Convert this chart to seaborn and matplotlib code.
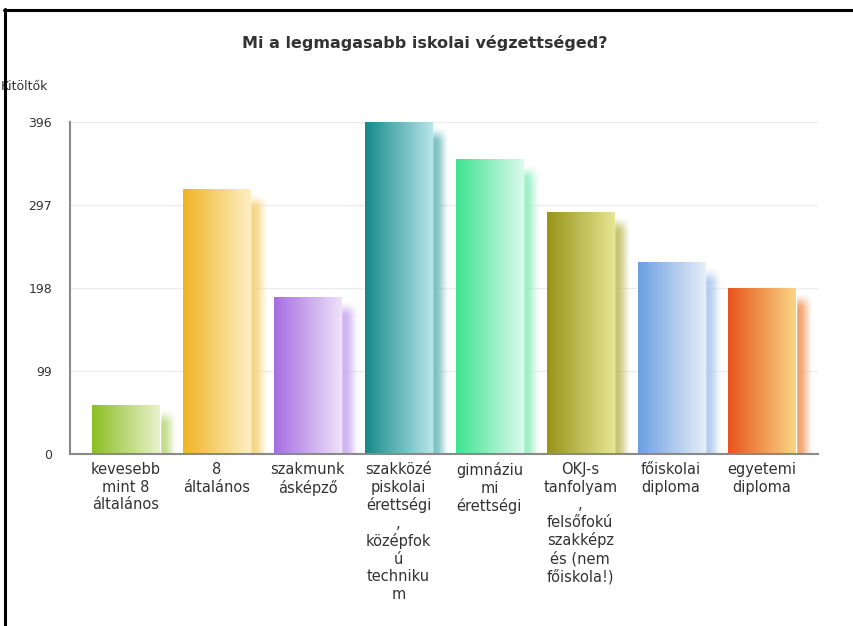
import numpy as np
import pandas as pd
import matplotlib.pyplot as plt
import matplotlib.colors as mcolors
from matplotlib.lines import Line2D
import seaborn as sns

# -------------------------------------------------------------------------
# Data
# -------------------------------------------------------------------------
categories = [
    "kevesebb\nmint 8\náltalános",
    "8\náltalános",
    "szakmunk\násképző",
    "szakközé\npiskolai\nérettségi\n,\nközépfok\nú\ntechniku\nm",
    "gimnáziu\nmi\nérettségi",
    "OKJ-s\ntanfolyam\n,\nfelsőfokú\nszakképz\nés (nem\nfőiskola!)",
    "főiskolai\ndiploma",
    "egyetemi\ndiploma",
]
values = [58, 316, 187, 396, 351, 288, 228, 197]
yticks = [0, 99, 198, 297, 396]

# gradient colours (left -> right) per bar
left_colors = ["#8cbf22", "#f0b424", "#a56ee0", "#16898a", "#3ee391", "#979418", "#6d9fe0", "#e8541c"]
right_colors = ["#e9f2cc", "#fdefc4", "#efe2fb", "#b6e6ea", "#dcfaec", "#e6e694", "#e6eefa", "#f8d684"]

title = "Mi a legmagasabb iskolai végzettséged?"
ylabel = "Kitöltők"

# -------------------------------------------------------------------------
# Style
# -------------------------------------------------------------------------
sns.set_theme(style="white")
plt.rcParams['font.family'] = ['DejaVu Sans']

df = pd.DataFrame({'cat': categories, 'n': values})

fig = plt.figure(figsize=(8.54, 6.26), dpi=100)
fig.patch.set_facecolor('white')
ax = fig.add_axes([70 / 854, 1 - 454 / 626, 748 / 854, 332 / 626])

sns.barplot(data=df, x='cat', y='n', hue='cat', palette=left_colors, legend=False,
            width=0.74, saturation=1, ax=ax, zorder=3)


def smooth(v):
    v = np.clip(v, 0, 1)
    return v * v * (3 - 2 * v)


# gradient fill + soft shadow for every bar
for i, p in enumerate(ax.patches):
    x0, w, h = p.get_x(), p.get_width(), p.get_height()
    c0 = np.array(mcolors.to_rgb(left_colors[i]))
    c1 = np.array(mcolors.to_rgb(right_colors[i]))
    t = np.linspace(0, 1, 256)[:, None]
    grad = (c0 * (1 - t) + c1 * t)[None, :, :]
    ax.imshow(grad, extent=[x0, x0 + w, 0, h], aspect='auto', zorder=3.5,
              interpolation='bilinear')

    # blurred shadow to the right of the bar
    sx0, sx1 = x0 + 0.05, x0 + w + 0.2
    stop = max(h - 4, 1)
    nx, ny = 160, 200
    xs = np.linspace(sx0, sx1, nx)
    ys = np.linspace(stop, 0, ny)          # row 0 = top
    fx = smooth((sx1 - xs) / 0.16)
    fy = smooth((stop - ys) / 20.0)
    alpha = fy[:, None] * fx[None, :] * 0.9
    sc = c0 * 0.5 + c1 * 0.35 + 0.15
    rgba = np.zeros((ny, nx, 4))
    rgba[..., :3] = np.clip(sc, 0, 1)
    rgba[..., 3] = alpha
    ax.imshow(rgba, extent=[sx0, sx1, 0, stop], aspect='auto', zorder=2.5,
              interpolation='bilinear')

ax.set_xlim(-0.616, 7.616)
ax.set_ylim(0, 396)
ax.set_yticks(yticks)
ax.set_yticklabels([str(v) for v in yticks])
ax.yaxis.grid(True, color='#ececec', lw=1, zorder=0)
ax.xaxis.grid(False)
ax.set_axisbelow(True)

for s in ['top', 'right']:
    ax.spines[s].set_visible(False)
for s in ['left', 'bottom']:
    ax.spines[s].set_color('#8a8a8a')
    ax.spines[s].set_linewidth(1.5)
    ax.spines[s].set_zorder(5)

ax.set_xlabel('')
ax.set_ylabel('')
ax.tick_params(axis='both', length=0)
ax.tick_params(axis='y', pad=13, labelsize=9, labelcolor='#333333')
ax.tick_params(axis='x', pad=6, labelsize=10.5, labelcolor='#333333')
for lbl in ax.get_xticklabels():
    lbl.set_linespacing(1.2)

fig.text(425 / 854, 1 - 43 / 626, title, ha='center', va='center',
         fontsize=11.5, fontweight='bold', color='#333333')
fig.text(1 / 854, 1 - 87 / 626, ylabel, ha='left', va='center',
         fontsize=9, color='#333333')

# black frame edges of the screenshot
fig.add_artist(Line2D([5 / 854, 5 / 854], [0, 1 - 9 / 626], transform=fig.transFigure,
                      color='black', lw=2.2, zorder=10))
fig.add_artist(Line2D([4 / 854, 1], [1 - 10 / 626, 1 - 10 / 626], transform=fig.transFigure,
                      color='black', lw=2.2, zorder=10))

fig.savefig('out.png', dpi=100, facecolor='white')
